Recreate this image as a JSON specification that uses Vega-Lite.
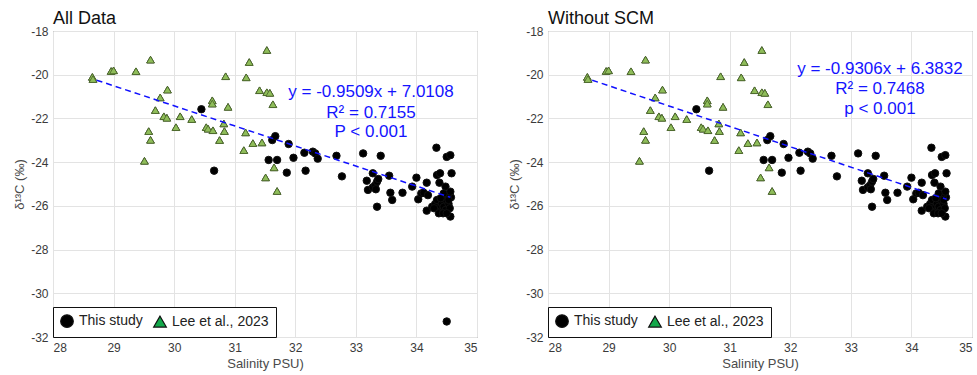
{
  "$schema": "https://vega.github.io/schema/vega-lite/v6.json",
  "padding": {"left": 13, "top": 9, "right": 2, "bottom": 2},
  "spacing": 30,
  "config": {
    "font": "Liberation Sans",
    "view": {"stroke": "#6e6e6e", "strokeWidth": 1},
    "axis": {
      "grid": true, "gridColor": "#e3e3e3", "domain": false,
      "ticks": false, "labelFontSize": 12, "labelColor": "#3a3a3a",
      "titleFontSize": 13, "titleColor": "#4a4a4a", "titleFontWeight": "normal",
      "labelPadding": 5, "labelOverlap": false, "labelExpr": "toString(datum.value)"
    },
    "title": {"fontSize": 18, "fontWeight": "normal", "anchor": "start", "frame": "group", "color": "#111", "offset": -3},
    "legend": {
      "orient": "bottom-left", "offset": 0, "direction": "horizontal",
      "strokeColor": "#111", "fillColor": "white", "padding": 7,
      "labelFontSize": 14, "labelColor": "#222", "symbolSize": 160,
      "columnPadding": 8, "labelOffset": 5, "symbolStrokeWidth": 1.2
    }
  },
  "datasets": {
    "pts": [
      {"src": "Lee et al., 2023", "sal": 28.65, "d13c": -20.10},
      {"src": "Lee et al., 2023", "sal": 28.66, "d13c": -20.20},
      {"src": "Lee et al., 2023", "sal": 28.96, "d13c": -19.83},
      {"src": "Lee et al., 2023", "sal": 29.00, "d13c": -19.80},
      {"src": "Lee et al., 2023", "sal": 29.37, "d13c": -19.84},
      {"src": "Lee et al., 2023", "sal": 29.61, "d13c": -19.31},
      {"src": "Lee et al., 2023", "sal": 29.89, "d13c": -20.68},
      {"src": "Lee et al., 2023", "sal": 29.77, "d13c": -21.04},
      {"src": "Lee et al., 2023", "sal": 29.69, "d13c": -21.62},
      {"src": "Lee et al., 2023", "sal": 29.83, "d13c": -21.90},
      {"src": "Lee et al., 2023", "sal": 29.88, "d13c": -21.97},
      {"src": "Lee et al., 2023", "sal": 29.58, "d13c": -22.58},
      {"src": "Lee et al., 2023", "sal": 29.61, "d13c": -22.98},
      {"src": "Lee et al., 2023", "sal": 29.51, "d13c": -23.94},
      {"src": "Lee et al., 2023", "sal": 30.03, "d13c": -22.40},
      {"src": "Lee et al., 2023", "sal": 30.10, "d13c": -21.90},
      {"src": "Lee et al., 2023", "sal": 30.29, "d13c": -22.03},
      {"src": "Lee et al., 2023", "sal": 30.53, "d13c": -22.40},
      {"src": "Lee et al., 2023", "sal": 30.56, "d13c": -22.47},
      {"src": "Lee et al., 2023", "sal": 30.63, "d13c": -21.17},
      {"src": "Lee et al., 2023", "sal": 30.63, "d13c": -21.32},
      {"src": "Lee et al., 2023", "sal": 30.64, "d13c": -22.54},
      {"src": "Lee et al., 2023", "sal": 30.85, "d13c": -20.07},
      {"src": "Lee et al., 2023", "sal": 30.89, "d13c": -21.47},
      {"src": "Lee et al., 2023", "sal": 30.82, "d13c": -22.23},
      {"src": "Lee et al., 2023", "sal": 30.83, "d13c": -22.58},
      {"src": "Lee et al., 2023", "sal": 30.75, "d13c": -22.99},
      {"src": "Lee et al., 2023", "sal": 31.19, "d13c": -20.12},
      {"src": "Lee et al., 2023", "sal": 31.24, "d13c": -19.42},
      {"src": "Lee et al., 2023", "sal": 31.53, "d13c": -18.87},
      {"src": "Lee et al., 2023", "sal": 31.41, "d13c": -20.71},
      {"src": "Lee et al., 2023", "sal": 31.53, "d13c": -20.80},
      {"src": "Lee et al., 2023", "sal": 31.58, "d13c": -20.83},
      {"src": "Lee et al., 2023", "sal": 31.63, "d13c": -21.35},
      {"src": "Lee et al., 2023", "sal": 31.18, "d13c": -22.64},
      {"src": "Lee et al., 2023", "sal": 31.30, "d13c": -23.13},
      {"src": "Lee et al., 2023", "sal": 31.15, "d13c": -23.45},
      {"src": "Lee et al., 2023", "sal": 31.45, "d13c": -23.10},
      {"src": "Lee et al., 2023", "sal": 31.51, "d13c": -24.70},
      {"src": "Lee et al., 2023", "sal": 31.65, "d13c": -24.24},
      {"src": "Lee et al., 2023", "sal": 31.70, "d13c": -25.32},
      {"src": "This study", "sal": 30.45, "d13c": -21.58},
      {"src": "This study", "sal": 30.66, "d13c": -24.39},
      {"src": "This study", "sal": 31.62, "d13c": -22.99},
      {"src": "This study", "sal": 31.67, "d13c": -22.81},
      {"src": "This study", "sal": 31.56, "d13c": -23.90},
      {"src": "This study", "sal": 31.70, "d13c": -23.90},
      {"src": "This study", "sal": 31.89, "d13c": -23.17},
      {"src": "This study", "sal": 31.86, "d13c": -24.48},
      {"src": "This study", "sal": 31.97, "d13c": -23.80},
      {"src": "This study", "sal": 32.15, "d13c": -23.57},
      {"src": "This study", "sal": 32.17, "d13c": -24.39},
      {"src": "This study", "sal": 32.29, "d13c": -23.52},
      {"src": "This study", "sal": 32.33, "d13c": -23.60},
      {"src": "This study", "sal": 32.37, "d13c": -23.84},
      {"src": "This study", "sal": 32.68, "d13c": -23.71},
      {"src": "This study", "sal": 32.77, "d13c": -24.65},
      {"src": "This study", "sal": 33.12, "d13c": -23.60},
      {"src": "This study", "sal": 33.41, "d13c": -23.71},
      {"src": "This study", "sal": 33.18, "d13c": -24.85},
      {"src": "This study", "sal": 33.28, "d13c": -24.51},
      {"src": "This study", "sal": 33.20, "d13c": -25.27},
      {"src": "This study", "sal": 33.28, "d13c": -25.15},
      {"src": "This study", "sal": 33.32, "d13c": -25.05},
      {"src": "This study", "sal": 33.35, "d13c": -24.89},
      {"src": "This study", "sal": 33.37, "d13c": -24.77},
      {"src": "This study", "sal": 33.33, "d13c": -25.24},
      {"src": "This study", "sal": 33.35, "d13c": -26.04},
      {"src": "This study", "sal": 33.55, "d13c": -24.62},
      {"src": "This study", "sal": 33.57, "d13c": -25.40},
      {"src": "This study", "sal": 33.60, "d13c": -25.73},
      {"src": "This study", "sal": 33.77, "d13c": -25.40},
      {"src": "This study", "sal": 33.93, "d13c": -25.12},
      {"src": "This study", "sal": 34.00, "d13c": -24.71},
      {"src": "This study", "sal": 34.03, "d13c": -25.70},
      {"src": "This study", "sal": 34.08, "d13c": -25.43},
      {"src": "This study", "sal": 34.12, "d13c": -25.40},
      {"src": "This study", "sal": 34.17, "d13c": -24.94},
      {"src": "This study", "sal": 34.19, "d13c": -25.51},
      {"src": "This study", "sal": 34.17, "d13c": -26.22},
      {"src": "This study", "sal": 34.33, "d13c": -23.34},
      {"src": "This study", "sal": 34.34, "d13c": -24.59},
      {"src": "This study", "sal": 34.39, "d13c": -24.51},
      {"src": "This study", "sal": 34.38, "d13c": -24.94},
      {"src": "This study", "sal": 34.48, "d13c": -25.12},
      {"src": "This study", "sal": 34.50, "d13c": -23.76},
      {"src": "This study", "sal": 34.56, "d13c": -23.68},
      {"src": "This study", "sal": 34.58, "d13c": -24.51},
      {"src": "This study", "sal": 34.57, "d13c": -25.61},
      {"src": "This study", "sal": 34.56, "d13c": -26.49},
      {"src": "This study", "sal": 34.50, "d13c": -31.29},
      {"src": "This study", "sal": 34.26, "d13c": -26.04},
      {"src": "This study", "sal": 34.31, "d13c": -25.91},
      {"src": "This study", "sal": 34.34, "d13c": -25.73},
      {"src": "This study", "sal": 34.37, "d13c": -26.11},
      {"src": "This study", "sal": 34.39, "d13c": -26.26},
      {"src": "This study", "sal": 34.42, "d13c": -25.88},
      {"src": "This study", "sal": 34.45, "d13c": -26.04},
      {"src": "This study", "sal": 34.48, "d13c": -26.19},
      {"src": "This study", "sal": 34.49, "d13c": -25.73},
      {"src": "This study", "sal": 34.52, "d13c": -25.50},
      {"src": "This study", "sal": 34.53, "d13c": -25.91},
      {"src": "This study", "sal": 34.55, "d13c": -26.11},
      {"src": "This study", "sal": 34.45, "d13c": -25.43},
      {"src": "This study", "sal": 34.40, "d13c": -25.65},
      {"src": "This study", "sal": 34.29, "d13c": -26.11},
      {"src": "This study", "sal": 34.37, "d13c": -26.34},
      {"src": "This study", "sal": 34.53, "d13c": -25.73},
      {"src": "This study", "sal": 34.56, "d13c": -25.35},
      {"src": "This study", "sal": 34.44, "d13c": -26.34},
      {"src": "This study", "sal": 34.50, "d13c": -26.34}
    ],
    "lines": [
      {"panel": "all", "sal": 28.72, "d13c": -20.25},
      {"panel": "all", "sal": 34.56, "d13c": -25.61},
      {"panel": "noscm", "sal": 28.73, "d13c": -20.25},
      {"panel": "noscm", "sal": 34.58, "d13c": -25.70}
    ],
    "notes": [
      {"panel": "all", "sal": 33.25, "d13c": -20.79, "txt": "y = -0.9509x + 7.0108"},
      {"panel": "all", "sal": 33.25, "d13c": -21.75, "txt": "R² = 0.7155"},
      {"panel": "all", "sal": 33.25, "d13c": -22.62, "txt": "P < 0.001"},
      {"panel": "noscm", "sal": 33.48, "d13c": -19.75, "txt": "y = -0.9306x + 6.3832"},
      {"panel": "noscm", "sal": 33.48, "d13c": -20.67, "txt": "R² = 0.7468"},
      {"panel": "noscm", "sal": 33.48, "d13c": -21.58, "txt": "p < 0.001"}
    ]
  },
  "resolve": {"scale": {"fill": "independent", "shape": "independent"}, "legend": {"fill": "independent", "shape": "independent"}},
  "hconcat": [
    {
      "title": "All Data",
      "width": 424, "height": 306,
      "layer": [
        {
          "data": {"name": "pts"},
          "mark": {"type": "point", "filled": true, "size": 55, "stroke": "#111", "strokeWidth": 1, "opacity": 1},
          "encoding": {
            "x": {"field": "sal", "type": "quantitative", "scale": {"domain": [28, 35], "nice": false}, "axis": {"title": "Salinity PSU)", "values": [28,29,30,31,32,33,34,35]}},
            "y": {"field": "d13c", "type": "quantitative", "scale": {"domain": [-32, -18], "nice": false}, "axis": {"title": "δ¹³C (‰)", "values": [-32,-30,-28,-26,-24,-22,-20,-18], "titlePadding": 4}},
            "fill": {"field": "src", "type": "nominal", "scale": {"domain": ["This study", "Lee et al., 2023"], "range": ["#000000", "#13a84a"]}, "legend": {"title": null}},
            "shape": {"field": "src", "type": "nominal", "scale": {"domain": ["This study", "Lee et al., 2023"], "range": ["circle", "triangle-up"]}, "legend": {"title": null}}
          }
        },
        {
          "data": {"name": "pts"},
          "transform": [{"filter": "datum.src === 'Lee et al., 2023'"}],
          "mark": {"type": "point", "filled": true, "shape": "triangle-up", "size": 60, "fill": "#8fbd5a", "stroke": "#4f6b2c", "strokeWidth": 0.9, "opacity": 1},
          "encoding": {
            "x": {"field": "sal", "type": "quantitative"},
            "y": {"field": "d13c", "type": "quantitative"}
          }
        },
        {
          "data": {"name": "lines"},
          "transform": [{"filter": "datum.panel === 'all'"}],
          "mark": {"type": "line", "color": "#1010ff", "strokeWidth": 1.5, "strokeDash": [6, 4]},
          "encoding": {
            "x": {"field": "sal", "type": "quantitative"},
            "y": {"field": "d13c", "type": "quantitative"}
          }
        },
        {
          "data": {"name": "notes"},
          "transform": [{"filter": "datum.panel === 'all'"}],
          "mark": {"type": "text", "color": "#1414ff", "fontSize": 17, "align": "center", "baseline": "middle"},
          "encoding": {
            "x": {"field": "sal", "type": "quantitative"},
            "y": {"field": "d13c", "type": "quantitative"},
            "text": {"field": "txt"}
          }
        }
      ]
    },
    {
      "title": "Without SCM",
      "width": 424, "height": 306,
      "layer": [
        {
          "data": {"name": "pts"},
          "transform": [{"filter": "datum.d13c > -30"}],
          "mark": {"type": "point", "filled": true, "size": 55, "stroke": "#111", "strokeWidth": 1, "opacity": 1},
          "encoding": {
            "x": {"field": "sal", "type": "quantitative", "scale": {"domain": [28, 35], "nice": false}, "axis": {"title": "Salinity PSU)", "values": [28,29,30,31,32,33,34,35]}},
            "y": {"field": "d13c", "type": "quantitative", "scale": {"domain": [-32, -18], "nice": false}, "axis": {"title": "δ¹³C (‰)", "values": [-32,-30,-28,-26,-24,-22,-20,-18], "titlePadding": 4}},
            "fill": {"field": "src", "type": "nominal", "scale": {"domain": ["This study", "Lee et al., 2023"], "range": ["#000000", "#13a84a"]}, "legend": {"title": null}},
            "shape": {"field": "src", "type": "nominal", "scale": {"domain": ["This study", "Lee et al., 2023"], "range": ["circle", "triangle-up"]}, "legend": {"title": null}}
          }
        },
        {
          "data": {"name": "pts"},
          "transform": [{"filter": "datum.src === 'Lee et al., 2023'"}],
          "mark": {"type": "point", "filled": true, "shape": "triangle-up", "size": 60, "fill": "#8fbd5a", "stroke": "#4f6b2c", "strokeWidth": 0.9, "opacity": 1},
          "encoding": {
            "x": {"field": "sal", "type": "quantitative"},
            "y": {"field": "d13c", "type": "quantitative"}
          }
        },
        {
          "data": {"name": "lines"},
          "transform": [{"filter": "datum.panel === 'noscm'"}],
          "mark": {"type": "line", "color": "#1010ff", "strokeWidth": 1.5, "strokeDash": [6, 4]},
          "encoding": {
            "x": {"field": "sal", "type": "quantitative"},
            "y": {"field": "d13c", "type": "quantitative"}
          }
        },
        {
          "data": {"name": "notes"},
          "transform": [{"filter": "datum.panel === 'noscm'"}],
          "mark": {"type": "text", "color": "#1414ff", "fontSize": 17, "align": "center", "baseline": "middle"},
          "encoding": {
            "x": {"field": "sal", "type": "quantitative"},
            "y": {"field": "d13c", "type": "quantitative"},
            "text": {"field": "txt"}
          }
        }
      ]
    }
  ]
}
